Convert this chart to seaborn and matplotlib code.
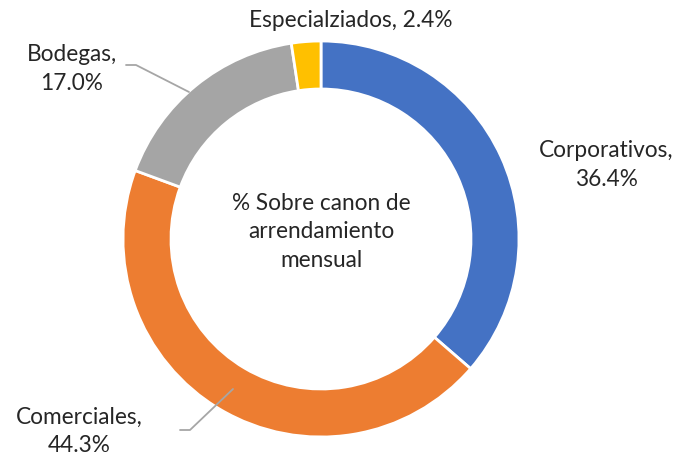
import matplotlib
matplotlib.use("Agg")
import matplotlib.pyplot as plt
import seaborn as sns

# Share of monthly lease income by property type
categories = ["Corporativos", "Comerciales", "Bodegas", "Especialziados"]
shares = [36.4, 44.3, 17.0, 2.4]
palette = ["#4472C4", "#ED7D31", "#A5A5A5", "#FFC000"]
center_title = "% Sobre canon de\narrendamiento\nmensual"

sns.set_theme(style="white")
plt.rcParams["font.family"] = ["Lato", "DejaVu Sans"]

W, H = 678, 456
fig = plt.figure(figsize=(W / 100, H / 100), dpi=100)
ax = fig.add_axes([0, 0, 1, 1])

cx, cy, r_out = 321, H - 240, 198
ring = 48

ax.pie(shares, colors=palette, startangle=90, counterclock=False,
       center=(cx, cy), radius=r_out, frame=True,
       wedgeprops=dict(width=ring, edgecolor="white", linewidth=2))
ax.set_xlim(0, W)
ax.set_ylim(0, H)
ax.set_aspect("equal")
ax.axis("off")

txt = dict(fontsize=16.3, color="#262626", ha="center", va="center",
           linespacing=1.42)

def Y(y):
    return H - y

label_pos = {
    "Corporativos": (606, 165),
    "Comerciales": (79, 431),
    "Bodegas": (72, 69),
    "Especialziados": (351, 20),
}
for name, val in zip(categories, shares):
    x, y = label_pos[name]
    if name == "Especialziados":
        s = f"{name}, {val:.1f}%"
    else:
        s = f"{name},\n{val:.1f}%"
    ax.text(x, Y(y), s, **txt)

# leader lines for the outside labels
lc = "#A6A6A6"
ax.plot([126, 136, 189], [Y(66), Y(66), Y(93)], color=lc, lw=1.3)
ax.plot([180, 190, 233], [Y(431), Y(431), Y(390)], color=lc, lw=1.3)

ax.text(cx, Y(232), center_title, **txt)

fig.savefig("out.png", dpi=100, facecolor="white")
